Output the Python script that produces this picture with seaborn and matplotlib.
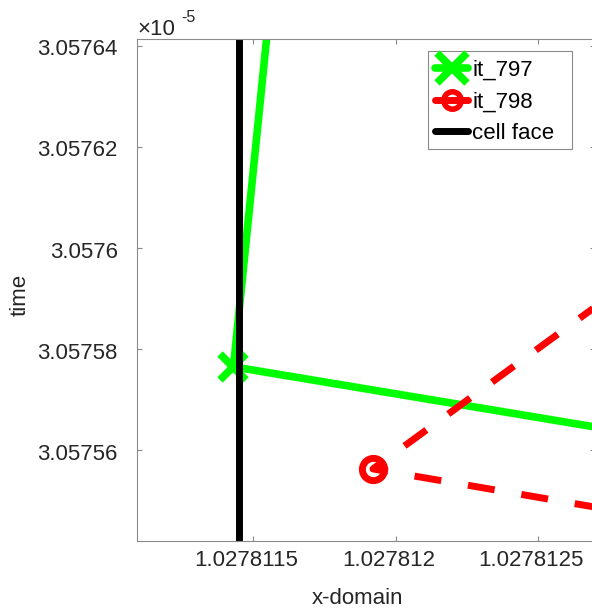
import matplotlib
matplotlib.use("Agg")
import matplotlib.pyplot as plt
import matplotlib.ticker as mticker
import matplotlib.transforms as mtrans
from matplotlib.patches import Rectangle
import seaborn as sns
import pandas as pd

# ---- data ----
x_797 = [1.02781156, 1.02781143, 1.02781286]
t_797 = [3.0576491e-5, 3.0575765e-5, 3.0575631e-5]
x_798 = [1.02781286, 1.02781192, 1.02781286]
t_798 = [3.0575949e-5, 3.0575563e-5, 3.0575472e-5]
x_face = [1.02781145, 1.02781145]
t_face = [3.0575000e-5, 3.0577000e-5]
labels = ["it_797", "it_798", "cell face"]
x_ticks = [1.0278115, 1.0278120, 1.0278125]
t_ticks = [3.05756e-5, 3.05758e-5, 3.05760e-5, 3.05762e-5, 3.05764e-5]
x_lim = [1.02781109, 1.0278127]
t_lim = [3.0575421e-5, 3.0576413e-5]

sns.set_style("white")
plt.rcParams["font.family"] = ["Liberation Sans", "DejaVu Sans"]
TXT = "#262626"
FS = 16

fig = plt.figure(figsize=(5.92, 6.12), dpi=100)
W, H = 592, 612
L, R, T, B = 136.7, 595.0, 39.3, 540.7
ax = fig.add_axes([L / W, (H - B) / H, (R - L) / W, (B - T) / H])

d797 = pd.DataFrame({"x": x_797, "t": t_797})
d798 = pd.DataFrame({"x": x_798, "t": t_798})
dface = pd.DataFrame({"x": x_face, "t": t_face})

sns.lineplot(data=d797, x="x", y="t", sort=False, estimator=None, ax=ax,
             color=(0, 1, 0), linewidth=5.5, marker="x", markersize=19,
             markeredgewidth=5.5, markeredgecolor=(0, 1, 0), label=labels[0],
             legend=False)
sns.lineplot(data=d798, x="x", y="t", sort=False, estimator=None, ax=ax,
             color=(1, 0, 0), linewidth=5, linestyle=(1.51, (3.9, 3.9)),
             marker="o", markersize=16, markeredgewidth=5,
             markeredgecolor=(1, 0, 0), markerfacecolor="none",
             label=labels[1], legend=False)
sns.lineplot(data=dface, x="x", y="t", sort=False, estimator=None, ax=ax,
             color="black", linewidth=5, label=labels[2], legend=False)

ax.set_xlim(x_lim)
ax.set_ylim(t_lim)
ax.set_xticks(x_ticks)
ax.set_yticks(t_ticks)
ax.xaxis.set_major_formatter(mticker.FuncFormatter(lambda v, p: "%.8g" % v))
ax.yaxis.set_major_formatter(mticker.FuncFormatter(lambda v, p: "%.6g" % (v / 1e-5)))

for s in ax.spines.values():
    s.set_visible(True)
    s.set_color("#8a8a8a")
    s.set_linewidth(0.8)
ax.tick_params(axis="both", direction="in", length=3.6, width=0.8,
               color="#8a8a8a", labelsize=FS, labelcolor=TXT,
               top=True, right=True, bottom=True, left=True)
ax.tick_params(axis="y", pad=13.5)
ax.tick_params(axis="x", pad=7)

# reference tick labels sit slightly left of / below their ticks
xoff = mtrans.ScaledTranslation(-7 / 100, 0, fig.dpi_scale_trans)
for lab in ax.get_xticklabels():
    lab.set_transform(lab.get_transform() + xoff)
yoff = mtrans.ScaledTranslation(0, -1.5 / 100, fig.dpi_scale_trans)
for lab in ax.get_yticklabels():
    lab.set_transform(lab.get_transform() + yoff)

ax.set_xlabel("x-domain", fontsize=FS, color=TXT)
ax.set_ylabel("time", fontsize=FS, color=TXT)
ax.xaxis.set_label_coords((357 - L) / (R - L), -(588 - B) / (B - T))
ax.yaxis.set_label_coords((31 - L) / (R - L), 1 - (295 - T) / (B - T))

fig.text(137 / W, 1 - 35 / H, "\u00d710", fontsize=FS, color=TXT,
         ha="left", va="baseline")
fig.text(181 / W, 1 - 22 / H, "-5", fontsize=11.5, color=TXT,
         ha="left", va="baseline")

# legend frame (opaque box) and entries
ax.add_patch(Rectangle((428.3 / W, 1 - 148.7 / H), 144 / W, 97.4 / H,
                       transform=fig.transFigure, facecolor="white",
                       edgecolor="#8a8a8a", linewidth=0.8, zorder=4.5,
                       clip_on=False))
leg = ax.legend(handles=ax.get_lines()[:3], labels=labels,
                loc="upper left",
                bbox_to_anchor=(435 / W, 1 - 60 / H),
                bbox_transform=fig.transFigure,
                borderaxespad=0, borderpad=0, fontsize=FS, frameon=False,
                handlelength=1.49, handletextpad=0.18, labelspacing=0.47)
hs = leg.legend_handles
hs[0].set_markersize(21.5)
hs[1].set_markersize(12.5)
hs[1].set_markeredgewidth(4)
hs[1].set_linestyle("-")
for t in leg.get_texts():
    t.set_color("black")

fig.savefig("out.png", dpi=100)
